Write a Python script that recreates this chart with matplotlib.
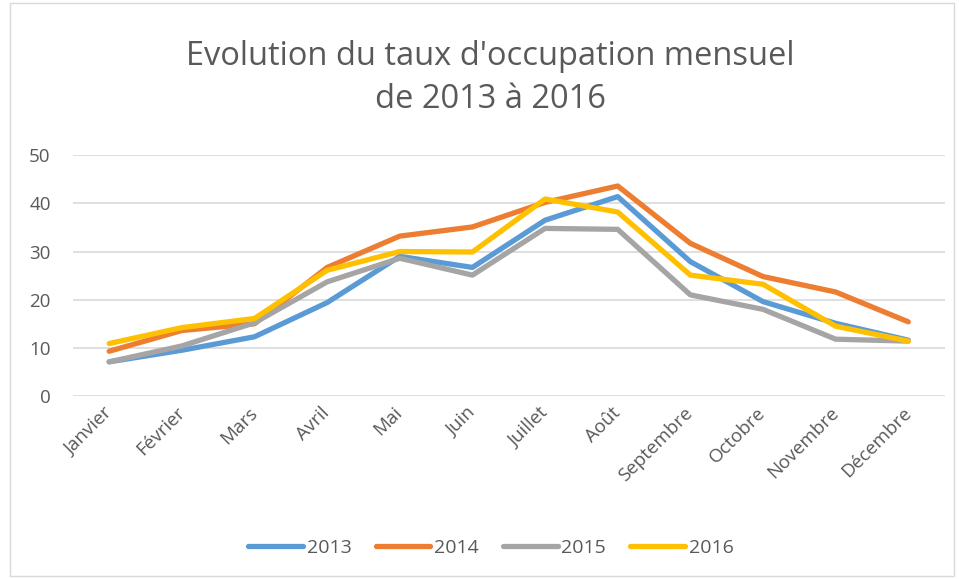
import matplotlib
matplotlib.use('Agg')
import matplotlib.pyplot as plt
from matplotlib.patches import Rectangle

months = ['Janvier', 'Février', 'Mars', 'Avril', 'Mai', 'Juin', 'Juillet',
          'Août', 'Septembre', 'Octobre', 'Novembre', 'Décembre']
y2013 = [7.1, 9.5, 12.3, 19.4, 29.0, 26.7, 36.5, 41.4, 27.9, 19.6, 15.1, 11.6]
y2014 = [9.3, 13.6, 15.0, 26.7, 33.2, 35.1, 40.2, 43.6, 31.7, 24.8, 21.6, 15.4]
y2015 = [7.1, 10.4, 15.2, 23.7, 28.6, 25.1, 34.8, 34.6, 21.0, 18.0, 11.8, 11.4]
y2016 = [10.9, 14.2, 16.1, 26.1, 30.0, 29.9, 40.9, 38.2, 25.1, 23.2, 14.5, 11.4]
years = ['2013', '2014', '2015', '2016']
colors = ['#5b9bd5', '#ed7d31', '#a5a5a5', '#ffc000']

plt.rcParams['font.family'] = ['Open Sans', 'DejaVu Sans']
text_col = '#595959'

fig = plt.figure(figsize=(9.59, 5.79), dpi=100)
ax = fig.add_axes([0.076, 0.316, 0.909, 0.416])

for vals, lab, c in zip([y2013, y2014, y2015, y2016], years, colors):
    ax.plot(range(len(months)), vals, color=c, lw=3.8, label=lab,
            solid_capstyle='round', solid_joinstyle='round')

ax.set_xlim(-0.5, len(months) - 0.5)
ax.set_ylim(0, 50)
ax.set_yticks(range(0, 51, 10))
ax.yaxis.grid(True, color='#d9d9d9', lw=1.2)
ax.set_axisbelow(True)
for s in ax.spines.values():
    s.set_visible(False)
ax.tick_params(length=0, labelsize=13.5, colors=text_col)
ax.tick_params(axis='y', pad=16)
ax.tick_params(axis='x', pad=10)
ax.set_xticks(range(len(months)))
ax.set_xticklabels(months, rotation=45, ha='right', va='center',
                   rotation_mode='anchor')

# two-line title, centered over the chart
fig.text(0.511, 0.866, "Evolution du taux d'occupation mensuel\nde 2013 à 2016",
         ha='center', va='center', fontsize=23.5, color=text_col,
         linespacing=1.4)

leg = fig.legend(loc='center', bbox_to_anchor=(0.512, 0.054), ncol=4,
                 frameon=False, fontsize=14, handlelength=2.8,
                 columnspacing=1.25, handletextpad=0.2)
for t in leg.get_texts():
    t.set_color(text_col)

fig.patches.append(Rectangle((0.01, 0.005), 0.985, 0.99, transform=fig.transFigure,
                             fill=False, edgecolor='#d9d9d9', lw=1))

fig.savefig('out.png', dpi=100, facecolor='white')
